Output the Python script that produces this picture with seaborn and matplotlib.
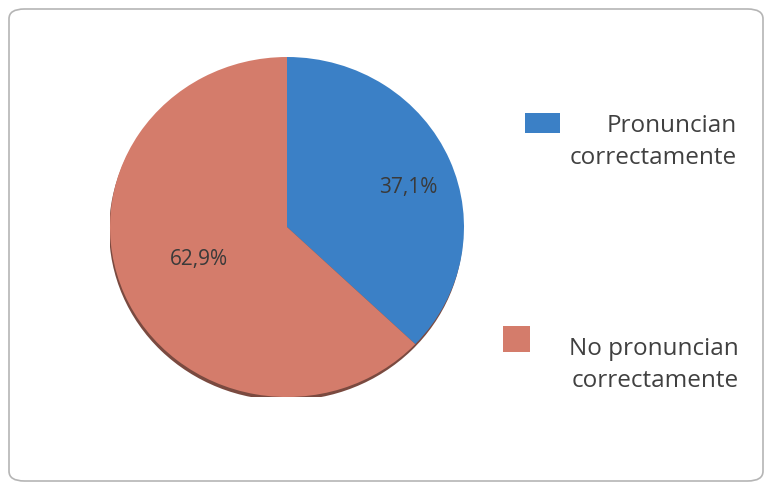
import matplotlib
matplotlib.use("Agg")
import matplotlib.pyplot as plt
import seaborn as sns
from matplotlib.patches import FancyBboxPatch, Rectangle, Ellipse

categories = ["Pronuncian\ncorrectamente", "No pronuncian\ncorrectamente"]
values = [37.1, 62.9]
pct_labels = ["37,1%", "62,9%"]
colors = ["#3b80c6", "#d47c6b"]

sns.set_theme(style="white")
plt.rcParams["font.family"] = ["Open Sans", "DejaVu Sans"]

W, H = 772, 490
fig = plt.figure(figsize=(W / 100, H / 100), dpi=100)
fig.patch.set_facecolor("white")

# rounded frame
frame = FancyBboxPatch((9 / W, 9 / H), (W - 18) / W, (H - 18) / H,
                       boxstyle="round,pad=0,rounding_size=0.02",
                       transform=fig.transFigure, facecolor="none",
                       edgecolor="#b5b5b5", linewidth=1.2, zorder=-1)
fig.patches.append(frame)

cx, cy, rx, ry = 287, 227, 177, 170
ax = fig.add_axes([(cx - rx) / W, (H - cy - ry) / H, 2 * rx / W, 2 * ry / H])
ax.axis("off")

# subtle bottom shadow
ax.add_patch(Ellipse((-0.005, -0.02), 2.0, 2.0, facecolor="#7a4a40", edgecolor="none", zorder=0))

wedges, texts, autotexts = ax.pie(values, colors=colors, startangle=90, counterclock=False,
                                  autopct="%1.1f%%", pctdistance=0.65,
                                  wedgeprops=dict(linewidth=0), radius=1)
ax.set_xlim(-1, 1)
ax.set_ylim(-1.0, 1.0)
ax.set_aspect("auto")

label_pos = [(0.685, 0.235), (-0.50, -0.19)]
for t, lab, pos in zip(autotexts, pct_labels, label_pos):
    t.set_text(lab)
    t.set_position(pos)
    t.set_fontsize(15)
    t.set_color("#3a3a3a")

# legend
leg = [((525, 113, 35, 20), (737, 142)), ((503, 326, 27, 26), (739, 365))]
for (box, tpos), col, cat in zip(leg, colors, categories):
    x, y, w, h = box
    fig.text(tpos[0] / W, (H - tpos[1]) / H, cat, ha="right", va="center",
             fontsize=17.5, color="#404040", linespacing=1.45, multialignment="right")
    fig.patches.append(Rectangle((x / W, (H - y - h) / H), w / W, h / H,
                                 transform=fig.transFigure, facecolor=col, edgecolor="none"))

fig.savefig("out.png", dpi=100)
